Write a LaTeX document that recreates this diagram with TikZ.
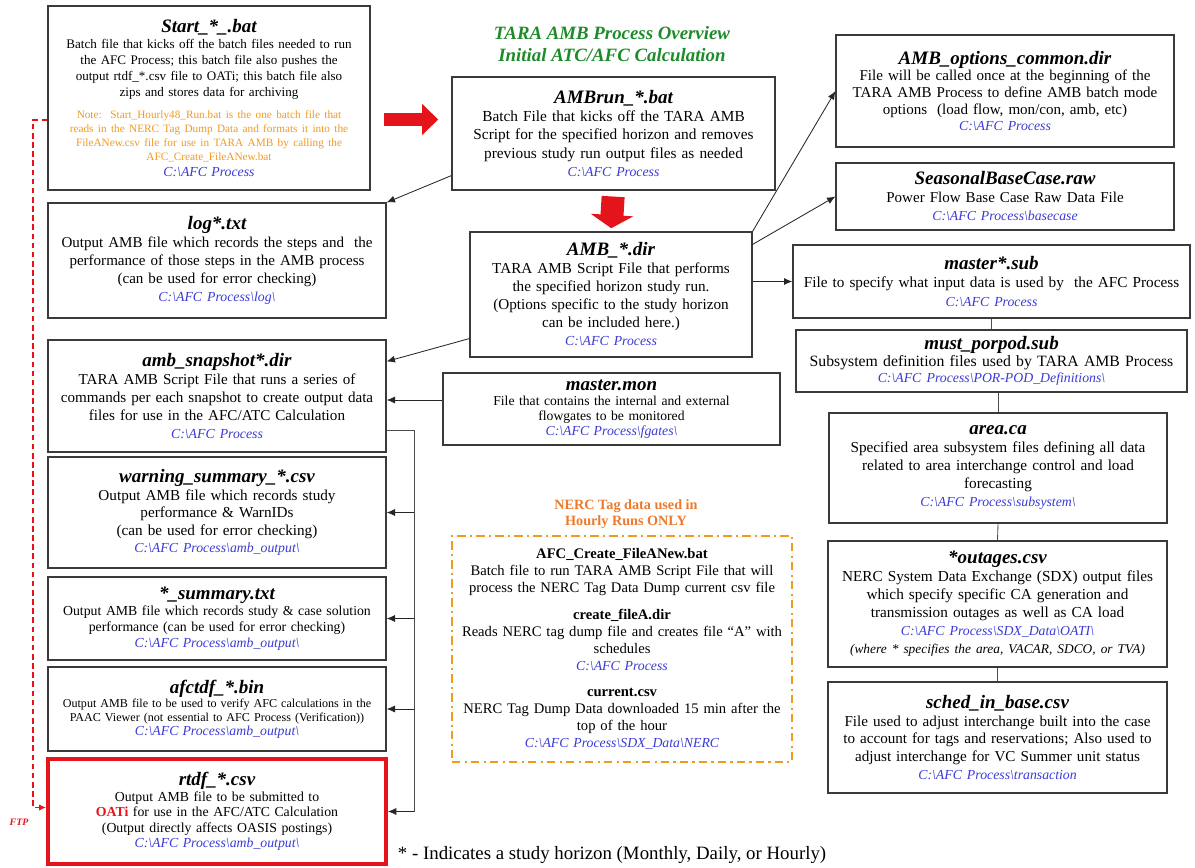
\documentclass[tikz,border=0pt]{standalone}
\usepackage{fontspec}
\setmainfont{Liberation Serif}
\usetikzlibrary{arrows.meta}
\definecolor{PathBlue}{HTML}{3B3BD6}
\definecolor{NoteOrange}{HTML}{F29A1E}
\definecolor{HeadOrange}{HTML}{EC7A2C}
\definecolor{TitleGreen}{HTML}{1E8B2A}
\definecolor{AlertRed}{HTML}{E5141B}
\definecolor{BoxEdge}{HTML}{3A3A3A}
\newcommand\fsize[2]{\fontsize{#1}{#2}\selectfont}
\newcommand\pathsep{\textbackslash}
\newcommand\ftitle[1]{{\fsize{13.5}{14}\bfseries\itshape #1}}
\newcommand\fpath[1]{{\color{PathBlue}\fontsize{9.8}{11}\selectfont\itshape #1}}
% box given by its corners in pixels: [style]{name}{x1}{y1}{x2}{y2}{text}
\newcommand\filebox[7][]{\pgfmathsetmacro\fbw{(#5-#3)*0.025}\pgfmathsetmacro\fbh{(#6-#4)*0.025}\pgfmathsetmacro\ftw{(#5-#3)*0.025*28.4528-8}%
\node[fbox,minimum width=\fbw cm,minimum height=\fbh cm,text width=\ftw pt,#1](#2)at({(#3+#5)/2},{(#4+#6)/2}){#7};}

\begin{document}
\begin{tikzpicture}[x=0.025cm,y=-0.025cm,
fbox/.style={draw=BoxEdge,line width=.8pt,fill=white,align=center,inner sep=4pt,font=\fsize{10.8}{12.8}},
link/.style={draw=black!85,line width=.6pt,-{Latex[length=6pt,width=5pt]}},
plain/.style={draw=black!70,line width=.6pt},
ftp/.style={draw=AlertRed,line width=1.1pt,dash pattern=on 4pt off 2.5pt,-{Latex[length=5pt,width=4.5pt]}}]
\useasboundingbox(0,0)rectangle(1195,867);
% header
\node[text=TitleGreen,font=\fsize{13.4}{15.6}\bfseries\itshape,align=center](title)at(612,44){TARA AMB Process Overview\\Initial ATC/AFC Calculation};
% left column
\filebox[font=\fsize{9.3}{11.4}]{start}{48}{6}{370}{190}{\ftitle{Start\_*\_.bat}\\Batch file that kicks off the batch files needed to run\\the AFC Process; this batch file also pushes the\\output rtdf\_*.csv file to OATi; this batch file also\\zips and stores data for archiving\par\vspace{6pt}{\color{NoteOrange}\fsize{8}{10}Note:\ \ Start\_Hourly48\_Run.bat is the one batch file that\\reads in the NERC Tag Dump Data and formats it into the\\FileANew.csv file for use in TARA AMB by calling the\\AFC\_Create\_FileANew.bat\par}\fpath{C:\pathsep AFC Process}}
\filebox[font=\fsize{10.7}{12.8}]{log}{48}{203}{386}{318}{\ftitle{log*.txt}\\Output AMB file which records the steps and\ \ the\\performance of those steps in the AMB process\\(can be used for error checking)\\\fpath{C:\pathsep AFC Process\pathsep log\pathsep}}
\filebox[font=\fsize{10.75}{12.8}]{snapshot}{48}{340}{386}{452}{\ftitle{amb\_snapshot*.dir}\\TARA AMB Script File that runs a series of\\commands per each snapshot to create output data\\files for use in the AFC/ATC Calculation\\\fpath{C:\pathsep AFC Process}}
\filebox[font=\fsize{10.8}{12.5}]{warn}{48}{457}{386}{568}{\ftitle{warning\_summary\_*.csv}\\Output AMB file which records study\\performance \& WarnIDs\\(can be used for error checking)\\\fpath{C:\pathsep AFC Process\pathsep amb\_output\pathsep}}
\filebox[font=\fsize{9.8}{11.5}]{summ}{48}{577}{386}{660}{\ftitle{*\_summary.txt}\\Output AMB file which records study \& case solution\\performance (can be used for error checking)\\\fpath{C:\pathsep AFC Process\pathsep amb\_output\pathsep}}
\filebox[font=\fsize{8.6}{10}]{afc}{48}{667}{386}{751}{\ftitle{afctdf\_*.bin}\\Output AMB file to be used to verify AFC calculations in the\\PAAC Viewer (not essential to AFC Process (Verification))\\\fpath{C:\pathsep AFC Process\pathsep amb\_output\pathsep}}
\filebox[draw=AlertRed,line width=2.6pt,font=\fsize{9.8}{11}]{rtdf}{48}{759}{386}{864}{\ftitle{rtdf\_*.csv}\\Output AMB file to be submitted to\\{\color{AlertRed}\bfseries OATi} for use in the AFC/ATC Calculation\\(Output directly affects OASIS postings)\\\fpath{C:\pathsep AFC Process\pathsep amb\_output\pathsep}}
% middle column
\filebox[font=\fsize{10.9}{13}]{ambrun}{452}{77}{775}{190}{\ftitle{AMBrun\_*.bat}\\Batch File that kicks off the TARA AMB\\Script for the specified horizon and removes\\previous study run output files as needed\\\fpath{C:\pathsep AFC Process}}
\filebox[font=\fsize{10.8}{12.8}]{dir}{470}{232}{752}{357}{\ftitle{AMB\_*.dir}\\TARA AMB Script File that performs\\the specified horizon study run.\\(Options specific to the study horizon\\can be included here.)\\\fpath{C:\pathsep AFC Process}}
\filebox[font=\fsize{9.7}{10.7}]{mon}{443}{373}{780}{445}{\ftitle{master.mon}\\File that contains the internal and external\\flowgates to be monitored\\\fpath{C:\pathsep AFC Process\pathsep fgates\pathsep}}
\node[text=HeadOrange,font=\fsize{10.1}{11.5}\bfseries,align=center](nerchead)at(626,514){NERC Tag data used in\\Hourly Runs ONLY};
\filebox[draw=NoteOrange,line width=1.6pt,dash pattern=on 6pt off 3pt on 1.5pt off 3pt,font=\fsize{10.4}{12}]{nerc}{452}{536}{792}{762}{\textbf{AFC\_Create\_FileANew.bat}\\Batch file to run TARA AMB Script File that will\\process the NERC Tag Data Dump current csv file\\[7pt]\textbf{create\_fileA.dir}\\Reads NERC tag dump file and creates file ``A'' with\\schedules\\\fpath{C:\pathsep AFC Process}\\[7pt]\textbf{current.csv}\\NERC Tag Dump Data downloaded 15 min after the\\top of the hour\\\fpath{C:\pathsep AFC Process\pathsep SDX\_Data\pathsep NERC}}
% right column
\filebox[font=\fsize{10.7}{11.8}]{options}{836}{35}{1174}{147}{\ftitle{AMB\_options\_common.dir}\\File will be called once at the beginning of the\\TARA AMB Process to define AMB batch mode\\options\ \ (load flow, mon/con, amb, etc)\\\fpath{C:\pathsep AFC Process}}
\filebox[font=\fsize{10.7}{12.8}]{seasonal}{836}{163}{1174}{230}{\ftitle{SeasonalBaseCase.raw}\\Power Flow Base Case Raw Data File\\\fpath{C:\pathsep AFC Process\pathsep basecase}}
\filebox[font=\fsize{10.85}{13}]{msub}{793}{245}{1190}{318}{\ftitle{master*.sub}\\File to specify what input data is used by\ \ the AFC Process\\\fpath{C:\pathsep AFC Process}}
\filebox[font=\fsize{11.2}{12}]{porpod}{796}{330}{1187}{392}{\ftitle{must\_porpod.sub}\\Subsystem definition files used by TARA AMB Process\\\fpath{C:\pathsep AFC Process\pathsep POR-POD\_Definitions\pathsep}}
\filebox[font=\fsize{10.85}{12.8}]{area}{829}{413}{1167}{523}{\ftitle{area.ca}\\Specified area subsystem files defining all data\\related to area interchange control and load\\forecasting\\\fpath{C:\pathsep AFC Process\pathsep subsystem\pathsep}}
\filebox[font=\fsize{10.85}{12.8}]{outages}{828}{541}{1167}{667}{\ftitle{*outages.csv}\\NERC System Data Exchange (SDX) output files\\which specify specific CA generation and\\transmission outages as well as CA load\\\fpath{C:\pathsep AFC Process\pathsep SDX\_Data\pathsep OATI\pathsep}\\{\fsize{9.5}{10}\itshape (where * specifies the area, VACAR, SDCO, or TVA)}}
\filebox[font=\fsize{10.76}{12.5}]{sched}{828}{682}{1167}{793}{\ftitle{sched\_in\_base.csv}\\File used to adjust interchange built into the case\\to account for tags and reservations; Also used to\\adjust interchange for VC Summer unit status\\\fpath{C:\pathsep AFC Process\pathsep transaction}}
% footer and FTP label
\node[anchor=west,font=\fsize{13.4}{15}](horizon)at(393,855){* - Indicates a study horizon (Monthly, Daily, or Hourly)};
\node[text=AlertRed,font=\fsize{7}{8}\bfseries\itshape](ftplabel)at(19,822){FTP};
% red block arrows
\coordinate(redin)at([yshift=.35cm]ambrun.west);
\draw[draw=AlertRed,line width=.33cm,-{Triangle[length=.4cm 0,width=.75cm 0]},shorten <=.33cm,shorten >=.33cm](start.east|-redin)--(redin);
\draw[draw=AlertRed,line width=.575cm,-{Triangle[length=.33cm 0,width=1.05cm 0]},shorten <=.15cm,shorten >=.08cm](ambrun.south)--(dir.north);
% connectors
\draw[link]([yshift=.375cm]ambrun.south west)--(log.north east);
\draw[link]([yshift=.475cm]dir.south west)--([yshift=-.55cm]snapshot.north east);
\draw[link](dir.north east)--(options.west);
\draw[link]([yshift=-.325cm]dir.north east)--(seasonal.west);
\draw[link](dir.east|-msub.west)--(msub.west);
\draw[link]([yshift=.225cm]mon.west)--([yshift=.225cm]mon.west-|snapshot.east);
\draw[plain](msub.south)--(porpod.north);\draw[plain](porpod.south-|area.north)--(area.north);\draw[plain](area.south)--(outages.north);\draw[plain](outages.south)--(sched.north);
\coordinate(bus)at(414,0);
\draw[plain]([yshift=-.85cm]snapshot.east)-|(bus|-rtdf.east);
\foreach \b in {warn,summ,afc,rtdf}{\draw[link](bus|-\b.east)--(\b.east);}
\coordinate(ftpx)at(33,0);
\draw[ftp]([yshift=-.55cm]start.west)-|([yshift=.1cm]ftpx|-rtdf.west)--([yshift=.1cm]rtdf.west);
\end{tikzpicture}
\end{document}
